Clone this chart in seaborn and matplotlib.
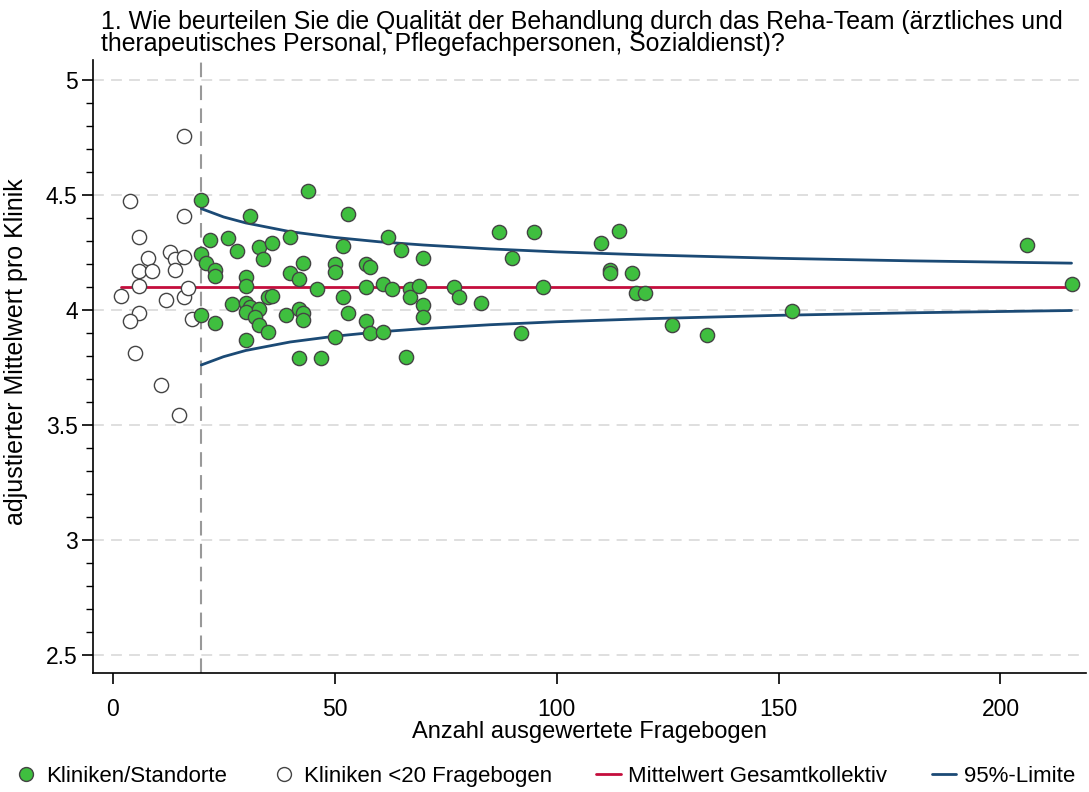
import matplotlib
matplotlib.use("Agg")
import matplotlib.pyplot as plt
import seaborn as sns
import pandas as pd
import numpy as np
from matplotlib.ticker import MultipleLocator, FormatStrFormatter
from matplotlib.lines import Line2D

# ---- data ----
small_n = [16, 4, 16, 6, 8, 13, 6, 9, 14, 14, 16, 6, 2, 12, 16, 17, 6, 4, 18, 5, 11, 15]
small_v = [4.758, 4.475, 4.409, 4.316, 4.226, 4.254, 4.172, 4.172, 4.22, 4.175, 4.23,
           4.103, 4.061, 4.045, 4.055, 4.096, 3.987, 3.951, 3.962, 3.814, 3.673, 3.542]

clinic_n = [20, 44, 31, 22, 26, 28, 20, 21, 23, 23, 33, 36, 34, 40, 30, 30, 43, 40, 42, 46,
            35, 36, 27, 30, 31, 30, 33, 32, 20, 23, 33, 35, 39, 42, 43, 43, 30, 42, 47,
            53, 52, 50, 50, 62, 65, 70, 57, 58, 87, 95, 90, 57, 61, 63, 67, 67, 69, 77,
            78, 83, 97, 52, 53, 57, 58, 61, 70, 70, 50, 66, 92,
            110, 114, 112, 112, 117, 118, 120, 126, 134, 153, 206, 216]
clinic_v = [4.48, 4.52, 4.407, 4.304, 4.314, 4.255, 4.243, 4.204, 4.175, 4.148, 4.275, 4.29,
            4.223, 4.317, 4.145, 4.106, 4.203, 4.16, 4.135, 4.09, 4.058, 4.062, 4.025, 4.032,
            4.014, 3.993, 4.004, 3.971, 3.977, 3.942, 3.935, 3.903, 3.977, 4.003, 3.987,
            3.957, 3.87, 3.79, 3.79,
            4.42, 4.28, 4.2, 4.164, 4.316, 4.261, 4.228, 4.2, 4.188, 4.339, 4.339, 4.227,
            4.101, 4.112, 4.091, 4.091, 4.058, 4.106, 4.101, 4.058, 4.032, 4.101, 4.055,
            3.988, 3.954, 3.899, 3.903, 4.022, 3.971, 3.884, 3.797, 3.901,
            4.29, 4.343, 4.174, 4.16, 4.162, 4.075, 4.075, 3.935, 3.891, 3.997, 4.283, 4.112]

mean_n = [2, 216]
mean_v = [4.101, 4.101]

limit_n = [20, 25, 30, 40, 50, 60, 70, 85, 100, 120, 150, 180, 216]
limit_upper = [4.441, 4.405, 4.379, 4.341, 4.316, 4.297, 4.283, 4.266, 4.253, 4.240, 4.225, 4.214, 4.204]
limit_lower = [3.761, 3.797, 3.824, 3.861, 3.886, 3.905, 3.919, 3.936, 3.949, 3.962, 3.977, 3.988, 3.998]

threshold_n = 20

title = ("1. Wie beurteilen Sie die Qualität der Behandlung durch das Reha-Team (ärztliches und\n"
         "therapeutisches Personal, Pflegefachpersonen, Sozialdienst)?")
xlabel = "Anzahl ausgewertete Fragebogen"
ylabel = "adjustierter Mittelwert pro Klinik"
legend_labels = ["Kliniken/Standorte", "Kliniken <20 Fragebogen", "Mittelwert Gesamtkollektiv", "95%-Limite"]

# ---- styling ----
sns.set_style("white")
plt.rcParams["font.family"] = ["Liberation Sans", "DejaVu Sans"]
plt.rcParams["text.color"] = "black"
plt.rcParams["axes.labelcolor"] = "black"
plt.rcParams["xtick.color"] = "black"
plt.rcParams["ytick.color"] = "black"

GREEN = "#3fbf3f"
EDGE = "#444444"
RED = "#c40d3c"
BLUE = "#1b4a75"

fig = plt.figure(figsize=(10.89, 7.92), dpi=100)
ax = fig.add_axes([0.0854, 0.150, 0.9116, 0.774])

for y in [2.5, 3, 3.5, 4, 4.5, 5]:
    ax.axhline(y, color="#dcdcdc", lw=1.3, ls=(0, (6, 4)), zorder=0)
ax.axvline(threshold_n, color="#999999", lw=1.5, ls=(0, (7, 4)), zorder=1)

df_lim = pd.DataFrame({"n": limit_n, "up": limit_upper, "lo": limit_lower})
sns.lineplot(data=df_lim, x="n", y="up", color=BLUE, lw=2.0, estimator=None, ax=ax, zorder=2)
sns.lineplot(data=df_lim, x="n", y="lo", color=BLUE, lw=2.0, estimator=None, ax=ax, zorder=2)
df_mean = pd.DataFrame({"n": mean_n, "v": mean_v})
sns.lineplot(data=df_mean, x="n", y="v", color=RED, lw=2.0, estimator=None, ax=ax, zorder=2)

df_small = pd.DataFrame({"n": small_n, "v": small_v})
df_cl = pd.DataFrame({"n": clinic_n, "v": clinic_v})
sns.scatterplot(data=df_small, x="n", y="v", s=105, color="white", edgecolor=EDGE,
                linewidth=1.0, ax=ax, zorder=3)
sns.scatterplot(data=df_cl, x="n", y="v", s=105, color=GREEN, edgecolor=EDGE,
                linewidth=1.0, ax=ax, zorder=4)

ax.set_xlim(-4.4, 219.2)
ax.set_ylim(2.42, 5.087)
ax.xaxis.set_major_locator(MultipleLocator(50))
ax.yaxis.set_major_locator(MultipleLocator(0.5))
ax.yaxis.set_minor_locator(MultipleLocator(0.1))
ax.yaxis.set_major_formatter(FormatStrFormatter("%g"))
ax.tick_params(axis="both", which="major", direction="out", length=8, width=1.2,
               labelsize=16.5, colors="black", left=True, bottom=True)
ax.tick_params(axis="y", which="minor", direction="out", length=5, width=1.0, left=True)
ax.tick_params(axis="x", which="major", pad=10)
ax.tick_params(axis="y", which="major", pad=3)

for side in ["top", "right"]:
    ax.spines[side].set_visible(False)
for side in ["left", "bottom"]:
    ax.spines[side].set_color("black")
    ax.spines[side].set_linewidth(1.2)

ax.set_xlabel(xlabel, fontsize=17, labelpad=0)
ax.set_ylabel(ylabel, fontsize=18)
ax.yaxis.set_label_coords(-0.065, 0.524)
ax.grid(False)

fig.text(0.093, 0.988, title, fontsize=17.9, ha="left", va="top", linespacing=0.9)

handles = [
    Line2D([], [], marker="o", ls="none", markersize=10, markerfacecolor=GREEN, markeredgecolor=EDGE),
    Line2D([], [], marker="o", ls="none", markersize=10, markerfacecolor="white", markeredgecolor=EDGE),
    Line2D([], [], color=RED, lw=2.0),
    Line2D([], [], color=BLUE, lw=2.0),
]
fig.legend(handles, legend_labels, loc="center", bbox_to_anchor=(0.5, 0.02), ncol=4,
           frameon=False, fontsize=16, handlelength=1.1, handletextpad=0.35,
           columnspacing=2.0)

fig.savefig("out.png", dpi=100)
